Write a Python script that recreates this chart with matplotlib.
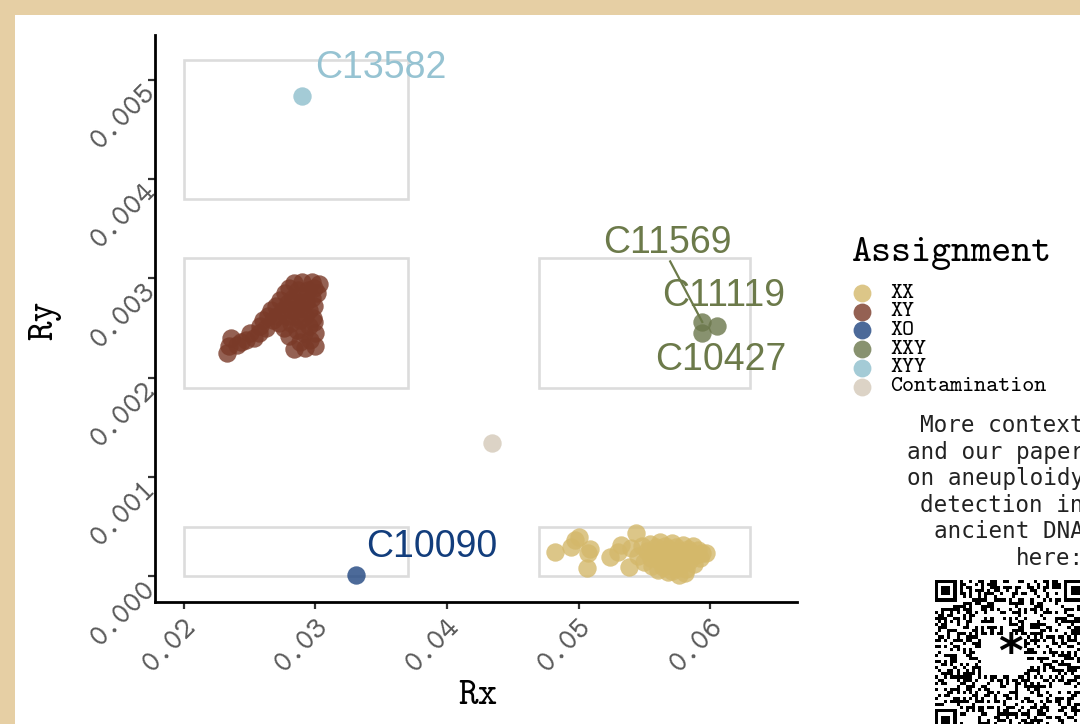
import numpy as np
import matplotlib
matplotlib.use("Agg")
import matplotlib.pyplot as plt
from matplotlib.patches import Rectangle

# ---- data ---------------------------------------------------------------
groups = ["XX", "XY", "XO", "XXY", "XYY", "Contamination"]
colors = ["#d4b86a", "#7a3a28", "#1f4580", "#6b774b", "#8ebecc", "#d4c9b8"]

xx_rx = [0.0482, 0.0494, 0.0497, 0.0500, 0.0507, 0.0509, 0.0506, 0.0524, 0.0532, 0.0538,
         0.0544, 0.0530, 0.0540, 0.0545, 0.0548, 0.0550, 0.0552, 0.0554, 0.0556, 0.0557,
         0.0559, 0.0560, 0.0561, 0.0562, 0.0563, 0.0565, 0.0566, 0.0567, 0.0568, 0.0569,
         0.0570, 0.0571, 0.0572, 0.0573, 0.0574, 0.0575, 0.0576, 0.0577, 0.0578, 0.0579,
         0.0580, 0.0582, 0.0583, 0.0584, 0.0585, 0.0587, 0.0588, 0.0589, 0.0591, 0.0592,
         0.0594, 0.0597, 0.0555, 0.0564, 0.0571, 0.0581]
xx_ry = [0.00024, 0.00029, 0.00036, 0.00039, 0.00023, 0.00027, 0.00008, 0.00019, 0.00031, 0.00009,
         0.00043, 0.00024, 0.00028, 0.00020, 0.00030, 0.00014, 0.00025, 0.00032, 0.00010, 0.00022,
         0.00029, 0.00006, 0.00016, 0.00034, 0.00024, 0.00012, 0.00030, 0.00019, 0.00004, 0.00027,
         0.00014, 0.00033, 0.00022, 0.00008, 0.00029, 0.00017, 0.00001, 0.00025, 0.00011, 0.00031,
         0.00020, 0.00007, 0.00027, 0.00015, 0.00024, 0.00030, 0.00012, 0.00021, 0.00026, 0.00018,
         0.00023, 0.00023, 0.00018, 0.00009, 0.00005, 0.00003]

xy_rx = [0.0233, 0.0234, 0.0236, 0.0240, 0.0243, 0.0247, 0.0250, 0.0253, 0.0257, 0.0258,
         0.0260, 0.0262, 0.0264, 0.0266, 0.0268, 0.0270, 0.0271, 0.0272, 0.0273, 0.0275,
         0.0276, 0.0277, 0.0278, 0.0279, 0.0280, 0.0280, 0.0281, 0.0282, 0.0283, 0.0284,
         0.0284, 0.0285, 0.0286, 0.0286, 0.0287, 0.0288, 0.0288, 0.0289, 0.0290, 0.0290,
         0.0291, 0.0292, 0.0292, 0.0293, 0.0294, 0.0295, 0.0295, 0.0296, 0.0297, 0.0297,
         0.0298, 0.0299, 0.0300, 0.0301, 0.0300, 0.0299, 0.0303, 0.0299]
xy_ry = [0.00225, 0.00232, 0.00240, 0.00233, 0.00236, 0.00238, 0.00245, 0.00240, 0.00245, 0.00252,
         0.00258, 0.00250, 0.00262, 0.00268, 0.00258, 0.00272, 0.00262, 0.00255, 0.00278, 0.00268,
         0.00250, 0.00285, 0.00262, 0.00275, 0.00242, 0.00290, 0.00255, 0.00268, 0.00280, 0.00229,
         0.00295, 0.00262, 0.00248, 0.00275, 0.00288, 0.00236, 0.00258, 0.00270, 0.00282, 0.00296,
         0.00245, 0.00262, 0.00230, 0.00276, 0.00288, 0.00252, 0.00268, 0.00238, 0.00280, 0.00296,
         0.00260, 0.00272, 0.00245, 0.00285, 0.00232, 0.00290, 0.00294, 0.00256]

xo_rx = [0.0331]
xo_ry = [0.00001]

xxy_rx = [0.0594, 0.0605, 0.0594]
xxy_ry = [0.00256, 0.00252, 0.00245]

xyy_rx = [0.0290]
xyy_ry = [0.00484]

cont_rx = [0.0434]
cont_ry = [0.00134]

# named samples and where their labels sit
sample_ids = ["C13582", "C10090", "C11569", "C11119", "C10427"]
sample_group = ["XYY", "XO", "XXY", "XXY", "XXY"]
sample_rx = [0.0290, 0.0331, 0.0594, 0.0605, 0.0594]
sample_ry = [0.00484, 0.00001, 0.00256, 0.00252, 0.00245]
label_rx = [0.03498, 0.03886, 0.05673, 0.06099, 0.06084]
label_ry = [0.00512, 0.00029, 0.003357, 0.002823, 0.002177]
label_colors = ["#96c3d2", "#123d7c", "#6c7a4a", "#6c7a4a", "#6c7a4a"]

# expected regions for each karyotype: (Rx min, Rx max, Ry min, Ry max)
box_rx0 = [0.020, 0.020, 0.047, 0.020, 0.047]
box_rx1 = [0.037, 0.037, 0.063, 0.037, 0.063]
box_ry0 = [0.0038, 0.0019, 0.0019, 0.0000, 0.0000]
box_ry1 = [0.0052, 0.0032, 0.0032, 0.0005, 0.0005]

x_ticks = [0.02, 0.03, 0.04, 0.05, 0.06]
y_ticks = [0.000, 0.001, 0.002, 0.003, 0.004, 0.005]

note = "More context\nand our paper\non aneuploidy\ndetection in\nancient DNA\nhere:"

MONO = "cmtt10"

# ---- figure -------------------------------------------------------------
W, H = 1080, 724
fig = plt.figure(figsize=(W / 100, H / 100), dpi=100)
fig.patch.set_facecolor("#e6cfa4")
fig.patches.append(Rectangle((15 / W, 0), 1.0, 1 - 15 / H, transform=fig.transFigure,
                             facecolor="white", edgecolor="none", zorder=-5))

ax = fig.add_axes([155 / W, 1 - 602 / H, (797 - 155) / W, (602 - 35) / H], zorder=2)
ax.set_facecolor("none")
ax.set_xlim(0.0178, 0.0666)
ax.set_ylim(-0.00026, 0.00545)

for x0, x1, y0, y1 in zip(box_rx0, box_rx1, box_ry0, box_ry1):
    ax.add_patch(Rectangle((x0, y0), x1 - x0, y1 - y0, facecolor="none",
                           edgecolor="#dcdcdc", linewidth=1.9, zorder=1))

series = {
    "XX": (xx_rx, xx_ry), "XY": (xy_rx, xy_ry), "XO": (xo_rx, xo_ry),
    "XXY": (xxy_rx, xxy_ry), "XYY": (xyy_rx, xyy_ry), "Contamination": (cont_rx, cont_ry),
}
for g, c in zip(groups, colors):
    rx, ry = series[g]
    ax.scatter(rx, ry, s=175, color=c, alpha=0.8, linewidths=0, zorder=3)

for name, lx, ly, lc in zip(sample_ids, label_rx, label_ry, label_colors):
    ax.text(lx, ly, name, color=lc, fontsize=27, family="Liberation Sans",
            ha="center", va="center", zorder=5)
# connector for the crowded XXY label
ax.plot([0.05696, sample_rx[2]], [0.00317, sample_ry[2]], color="#6c7a4a", lw=1.6, zorder=4)

for s in ["top", "right"]:
    ax.spines[s].set_visible(False)
for s in ["left", "bottom"]:
    ax.spines[s].set_linewidth(2.0)
    ax.spines[s].set_color("black")
ax.set_xticks(x_ticks)
ax.set_yticks(y_ticks)
ax.set_xticklabels([f"{v:.2f}" for v in x_ticks])
ax.set_yticklabels([f"{v:.3f}" for v in y_ticks])
ax.tick_params(length=5, width=1.6, color="#333333", labelcolor="#5a5a5a", labelsize=22)
for lab in ax.get_xticklabels() + ax.get_yticklabels():
    lab.set_rotation(45); lab.set_ha("right"); lab.set_va("top"); lab.set_family(MONO)
    lab.set_rotation_mode("anchor")
ax.set_xlabel("Rx", family=MONO, fontsize=27)
ax.set_ylabel("Ry", family=MONO, fontsize=27)
ax.xaxis.set_label_coords(0.503, -0.1675)
ax.yaxis.set_label_coords(-0.171, 0.497)
ax.xaxis.label.set_va("center")
ax.yaxis.label.set_va("center")

# ---- legend, note and QR panel (pixel coordinates) ---------------------
ov = fig.add_axes([0, 0, 1, 1], zorder=10)
ov.set_xlim(0, W); ov.set_ylim(H, 0); ov.axis("off")
ov.patch.set_alpha(0)

ov.text(852, 254, "Assignment", family=MONO, fontsize=27.5, va="center", ha="left")
for i, (g, c) in enumerate(zip(groups, colors)):
    y = 293 + 18.7 * i
    ov.scatter([862], [y], s=165, color=c, alpha=0.8, linewidths=0)
    ov.text(890, y, g, family=MONO, fontsize=16.5, va="center", ha="left")

ov.text(1084, 492, note, family="DejaVu Sans Mono", fontsize=16.3, color="#222222",
        ha="right", va="center", linespacing=1.2, multialignment="right")

# QR code block
n = 49
qr = np.zeros((n, n))
ii, jj = np.meshgrid(np.arange(n), np.arange(n), indexing="ij")
qr[(((ii * 31 + jj * 17) ^ (ii * jj * 7 + jj)) % 7) < 3] = 1
for r, c in [(0, 0), (0, n - 7), (n - 7, 0)]:
    qr[max(r - 1, 0):r + 8, max(c - 1, 0):c + 8] = 0
    qr[r:r + 7, c:c + 7] = 1
    qr[r + 1:r + 6, c + 1:c + 6] = 0
    qr[r + 2:r + 5, c + 2:c + 5] = 1
qr[18:31, 15:29] = 0
ov.imshow(1 - qr, cmap="gray", vmin=0, vmax=1, extent=(935, 935 + n * 3.08, 580 + n * 3.08, 580),
          interpolation="nearest", zorder=2)
ov.text(1010, 655, "*", fontsize=34, fontweight="bold", ha="center", va="center", zorder=3)
ov.set_xlim(0, W); ov.set_ylim(H, 0)

fig.savefig("out.png", dpi=100, facecolor=fig.get_facecolor())
